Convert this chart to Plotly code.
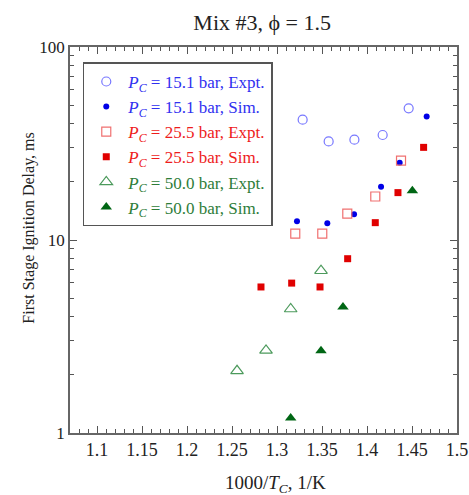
import plotly.graph_objects as go

# 15.1 bar
x_151_expt = [1.3285, 1.3574, 1.3860, 1.4174, 1.4463]
y_151_expt = [42.0, 32.4, 33.1, 35.0, 48.1]
x_151_sim = [1.3222, 1.3559, 1.3856, 1.4156, 1.4363, 1.4663]
y_151_sim = [12.5, 12.2, 13.6, 18.9, 25.1, 43.7]
# 25.5 bar
x_255_expt = [1.3203, 1.3503, 1.3781, 1.4092, 1.4378]
y_255_expt = [10.8, 10.8, 13.7, 16.8, 25.8]
x_255_sim = [1.2822, 1.3163, 1.3478, 1.3785, 1.4092, 1.4344, 1.4629]
y_255_sim = [5.71, 5.98, 5.71, 8.0, 12.3, 17.6, 30.2]
# 50.0 bar
x_500_expt = [1.2556, 1.2878, 1.3152, 1.3489]
y_500_expt = [2.10, 2.68, 4.39, 6.93]
x_500_sim = [1.3152, 1.3489, 1.3733, 1.4504]
y_500_sim = [1.196, 2.67, 4.5, 18.0]

x_ticks = [1.1, 1.15, 1.2, 1.25, 1.3, 1.35, 1.4, 1.45, 1.5]
y_ticks = [1, 10, 100]

FONT = "Liberation Serif"
BLUE_T, RED_T, GREEN_T = "#3030f0", "#ee1c1c", "#2e7d3a"

def name(p, kind, color):
    return (f"<span style='color:{color}'><i>P</i><sub><i>C</i></sub> = {p} bar, {kind}</span>")

fig = go.Figure()
fig.add_trace(go.Scatter(x=x_151_expt, y=y_151_expt, mode="markers",
    name=name("15.1", "Expt.", BLUE_T),
    marker=dict(symbol="circle-open", size=9, color="#7878ff", line=dict(width=1.2))))
fig.add_trace(go.Scatter(x=x_151_sim, y=y_151_sim, mode="markers",
    name=name("15.1", "Sim.", BLUE_T),
    marker=dict(symbol="circle", size=6, color="#0000e6")))
fig.add_trace(go.Scatter(x=x_255_expt, y=y_255_expt, mode="markers",
    name=name("25.5", "Expt.", RED_T),
    marker=dict(symbol="square-open", size=9, color="#f07070", line=dict(width=1.2))))
fig.add_trace(go.Scatter(x=x_255_sim, y=y_255_sim, mode="markers",
    name=name("25.5", "Sim.", RED_T),
    marker=dict(symbol="square", size=7, color="#e00000")))
fig.add_trace(go.Scatter(x=x_500_expt, y=y_500_expt, mode="markers",
    name=name("50.0", "Expt.", GREEN_T),
    marker=dict(symbol="triangle-up-open", size=11, color="#4c9a5c", line=dict(width=1.2))))
fig.add_trace(go.Scatter(x=x_500_sim, y=y_500_sim, mode="markers",
    name=name("50.0", "Sim.", GREEN_T),
    marker=dict(symbol="triangle-up", size=10, color="#006614")))

axis_common = dict(showgrid=False, zeroline=False, showline=True, linecolor="#666666",
                   linewidth=1.5, ticks="inside", tickcolor="#555555", ticklen=7,
                   tickwidth=1, mirror="allticks", automargin=False,
                   ticklabeloverflow="allow")

minor_y = [v * m for v in (1, 10) for m in range(2, 10)]
fig.update_layout(
    width=469, height=495,
    margin=dict(l=70, r=12, t=47, b=62),
    paper_bgcolor="white", plot_bgcolor="white",
    font=dict(family=FONT, color="#222222"),
    title=dict(text="Mix #3, ϕ = 1.5", x=0.559, xanchor="center",
               y=0.9556, yanchor="middle", font=dict(family=FONT, size=22, color="#222222")),
    xaxis=dict(range=[1.07, 1.5], tickvals=x_ticks, ticktext=[str(v) for v in x_ticks],
               minor=dict(dtick=0.01, tick0=1.1, ticks="inside", ticklen=4, tickcolor="#555555"),
               tickfont=dict(family=FONT, size=18, color="#222222"),
               **axis_common),
    yaxis=dict(type="log", range=[0, 2], tickvals=y_ticks, ticktext=["1", "10", "100"],
               minor=dict(tickvals=minor_y, ticks="inside", ticklen=4, tickcolor="#555555"),
               tickfont=dict(family=FONT, size=17, color="#222222"),
               **axis_common),
    legend=dict(x=0.033, y=0.96, xanchor="left", yanchor="top",
                bgcolor="white", bordercolor="#555555", borderwidth=1.5,
                font=dict(family=FONT, size=17), tracegroupgap=0, itemwidth=34),
    showlegend=True,
    annotations=[
        dict(text="First Stage Ignition Delay, ms", textangle=-90,
             xref="paper", yref="paper", x=-0.106, y=0.532,
             xanchor="center", yanchor="middle", showarrow=False,
             font=dict(family=FONT, size=16, color="#222222")),
        dict(text="1000/<i>T</i><sub><i>C</i></sub>, 1/K",
             xref="paper", yref="paper", x=0.53, y=-0.133,
             xanchor="center", yanchor="middle", showarrow=False,
             font=dict(family=FONT, size=19, color="#222222")),
    ],
)

fig.write_html("out.html", config={"displayModeBar": False},
               post_script="document.body.style.margin='0';")
